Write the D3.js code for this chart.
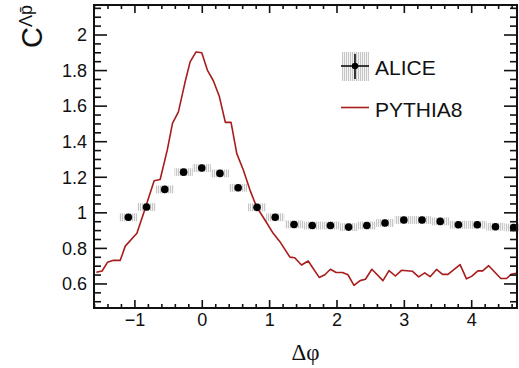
<!DOCTYPE html>
<html>
  <head>
    <meta charset="UTF-8">
    <script src="https://d3js.org/d3.v7.min.js"></script>
    <style>
      body { margin: 0; background: #fff; }
      svg { font-family: "Liberation Sans", Arial, sans-serif; }
    </style>
  </head>
  <body>
    <div id="chart"></div>
    <script>
      // ALICE data points (delta phi, correlation, systematic error)
      const alicePhi = [-1.09, -0.82, -0.55, -0.27, 0.0, 0.27, 0.54, 0.82, 1.09, 1.37, 1.64, 1.91,
                        2.18, 2.45, 2.72, 3.0, 3.27, 3.54, 3.81, 4.09, 4.36, 4.63];
      const aliceC = [0.972, 1.03, 1.129, 1.226, 1.249, 1.219, 1.138, 1.028, 0.972, 0.932, 0.926, 0.926,
                      0.917, 0.926, 0.94, 0.957, 0.957, 0.949, 0.93, 0.93, 0.919, 0.915];
      const aliceSys = [0.022, 0.022, 0.022, 0.022, 0.022, 0.022, 0.022, 0.022, 0.022, 0.022, 0.022, 0.022,
                        0.022, 0.022, 0.022, 0.022, 0.022, 0.022, 0.022, 0.022, 0.022, 0.022];

      // PYTHIA8 curve
      const pythiaPhi = [-1.565, -1.48, -1.40, -1.31, -1.21, -1.136, -0.963, -0.865, -0.707, -0.618,
                         -0.51, -0.435, -0.347, -0.247, -0.173, -0.085, 0.0, 0.083, 0.172, 0.26,
                         0.35, 0.434, 0.52, 0.617, 0.716, 0.815, 0.938, 1.06, 1.16, 1.308,
                         1.38, 1.48, 1.58, 1.743, 1.827, 1.91, 1.995, 2.09, 2.17, 2.26,
                         2.35, 2.43, 2.525, 2.69, 2.78, 2.875, 2.965, 3.125, 3.22, 3.31,
                         3.39, 3.485, 3.575, 3.655, 3.835, 3.93, 4.005, 4.1, 4.17, 4.26,
                         4.44, 4.525, 4.595, 4.67];
      const pythiaC = [0.663, 0.67, 0.719, 0.73, 0.73, 0.81, 0.882, 0.994, 1.178, 1.185,
                       1.354, 1.5, 1.565, 1.734, 1.846, 1.902, 1.897, 1.80, 1.74, 1.653,
                       1.506, 1.507, 1.33, 1.238, 1.125, 1.03, 0.957, 0.882, 0.835, 0.748,
                       0.745, 0.704, 0.726, 0.634, 0.649, 0.68, 0.662, 0.662, 0.649, 0.589,
                       0.616, 0.624, 0.68, 0.616, 0.672, 0.642, 0.674, 0.669, 0.637, 0.66,
                       0.638, 0.679, 0.651, 0.651, 0.706, 0.626, 0.64, 0.671, 0.671, 0.70,
                       0.628, 0.628, 0.652, 0.657];

      const xMajor = [-1, 0, 1, 2, 3, 4];
      const yMajor = [0.6, 0.8, 1, 1.2, 1.4, 1.6, 1.8, 2];
      const yLabels = ["0.6", "0.8", "1", "1.2", "1.4", "1.6", "1.8", "2"];

      const width = 519, height = 368;
      const frame = { left: 94, right: 517, top: 5, bottom: 308 };
      const binW = 0.27;
      const lineRed = "#a81c1c";

      const svg = d3.select("#chart").append("svg")
        .attr("width", width).attr("height", height);

      // stripy fill for systematic boxes
      const pat = svg.append("defs").append("pattern")
        .attr("id", "sys").attr("patternUnits", "userSpaceOnUse")
        .attr("width", 2).attr("height", 2);
      pat.append("rect").attr("width", 2).attr("height", 2).attr("fill", "#f3f3f3");
      pat.append("rect").attr("width", 1).attr("height", 2).attr("fill", "#c6c6c6");

      const x = d3.scaleLinear().domain([-1.6, 4.68]).range([frame.left, frame.right]);
      const y = d3.scaleLinear().domain([0.462, 2.166]).range([frame.bottom, frame.top]);

      const alice = alicePhi.map((p, i) => ({ p: p, c: aliceC[i], s: aliceSys[i] }));

      const plot = svg.append("g");

      // systematic boxes
      plot.selectAll("rect.sys").data(alice).enter().append("rect")
        .attr("class", "sys")
        .attr("x", d => x(d.p - binW / 2))
        .attr("width", d => x(d.p + binW / 2) - x(d.p - binW / 2))
        .attr("y", d => y(d.c + d.s))
        .attr("height", d => y(d.c - d.s) - y(d.c + d.s))
        .attr("fill", "url(#sys)");

      // PYTHIA line
      const line = d3.line().x(d => x(d[0])).y(d => y(d[1]));
      plot.append("path")
        .datum(pythiaPhi.map((p, i) => [p, pythiaC[i]]))
        .attr("d", line)
        .attr("fill", "none")
        .attr("stroke", lineRed)
        .attr("stroke-width", 1.6)
        .attr("stroke-linejoin", "round");

      // ALICE markers
      plot.selectAll("circle").data(alice).enter().append("circle")
        .attr("cx", d => x(d.p))
        .attr("cy", d => y(d.c))
        .attr("r", 3.8)
        .attr("fill", "#000");

      // axes: ticks on all four sides, drawn inward
      const xMinor = d3.range(-16, 47, 2).map(v => v / 10).filter(v => !xMajor.includes(v));
      const yMinor = d3.range(50, 217, 5).map(v => v / 100).filter(v => !yMajor.some(m => Math.abs(m - v) < 1e-6));

      svg.append("g").attr("transform", `translate(0,${frame.bottom})`)
        .call(d3.axisTop(x).tickValues(xMajor).tickSize(8).tickPadding(-26)
          .tickFormat(d => d < 0 ? "\u2212" + Math.abs(d) : d));
      svg.append("g").attr("transform", `translate(0,${frame.bottom})`)
        .call(d3.axisTop(x).tickValues(xMinor).tickSize(4).tickFormat(""));
      svg.append("g").attr("transform", `translate(0,${frame.top})`)
        .call(d3.axisBottom(x).tickValues(xMajor).tickSize(8).tickFormat(""));
      svg.append("g").attr("transform", `translate(0,${frame.top})`)
        .call(d3.axisBottom(x).tickValues(xMinor).tickSize(4).tickFormat(""));

      const yLab = svg.append("g").attr("transform", `translate(${frame.left},0)`)
        .call(d3.axisRight(y).tickValues(yMajor).tickSize(13)
          .tickFormat((d, i) => yLabels[i]));
      svg.append("g").attr("transform", `translate(${frame.left},0)`)
        .call(d3.axisRight(y).tickValues(yMinor).tickSize(7).tickFormat(""));
      svg.append("g").attr("transform", `translate(${frame.right},0)`)
        .call(d3.axisLeft(y).tickValues(yMajor).tickSize(13).tickFormat(""));
      svg.append("g").attr("transform", `translate(${frame.right},0)`)
        .call(d3.axisLeft(y).tickValues(yMinor).tickSize(7).tickFormat(""));

      svg.selectAll(".domain").remove();
      svg.selectAll(".tick line").attr("stroke", "#111").attr("stroke-width", 1.6);
      svg.selectAll(".tick text").attr("fill", "#111").style("font-size", "18px")
        .style("font-family", "'Liberation Sans', Arial, sans-serif");
      // y labels right-aligned left of the axis
      yLab.selectAll(".tick text").attr("text-anchor", "end").attr("x", -7).attr("dy", "0.35em");

      // frame
      svg.append("rect")
        .attr("x", frame.left).attr("y", frame.top)
        .attr("width", frame.right - frame.left).attr("height", frame.bottom - frame.top)
        .attr("fill", "none").attr("stroke", "#111").attr("stroke-width", 2);

      // axis titles
      svg.append("text")
        .attr("x", (frame.left + frame.right) / 2).attr("y", 360)
        .attr("text-anchor", "middle")
        .style("font-family", "'Liberation Serif', 'Times New Roman', serif")
        .style("font-size", "23px")
        .attr("fill", "#111")
        .text("\u0394\u03c6");

      const yt = svg.append("text")
        .attr("transform", "translate(42,5) rotate(-90)")
        .attr("text-anchor", "end")
        .attr("fill", "#111")
        .style("font-size", "29px");
      yt.append("tspan").text("C");
      yt.append("tspan").attr("dy", -10).style("font-size", "18px").text("\u039bp\u0304");

      // legend
      const lg = svg.append("g");
      lg.append("rect").attr("x", 342).attr("y", 52).attr("width", 27).attr("height", 29)
        .attr("fill", "url(#sys)");
      lg.append("line").attr("x1", 341).attr("x2", 369).attr("y1", 66).attr("y2", 66)
        .attr("stroke", "#000").attr("stroke-width", 1.5);
      lg.append("line").attr("x1", 355).attr("x2", 355).attr("y1", 54).attr("y2", 79)
        .attr("stroke", "#000").attr("stroke-width", 1.5);
      lg.append("circle").attr("cx", 355).attr("cy", 66).attr("r", 3.2).attr("fill", "#000");
      lg.append("text").attr("x", 375).attr("y", 75).style("font-size", "21px").attr("fill", "#111").text("ALICE");
      lg.append("line").attr("x1", 341).attr("x2", 369).attr("y1", 107.5).attr("y2", 107.5)
        .attr("stroke", lineRed).attr("stroke-width", 1.6);
      lg.append("text").attr("x", 375).attr("y", 117).style("font-size", "21px").attr("fill", "#111").text("PYTHIA8");
    </script>
  </body>
</html>
